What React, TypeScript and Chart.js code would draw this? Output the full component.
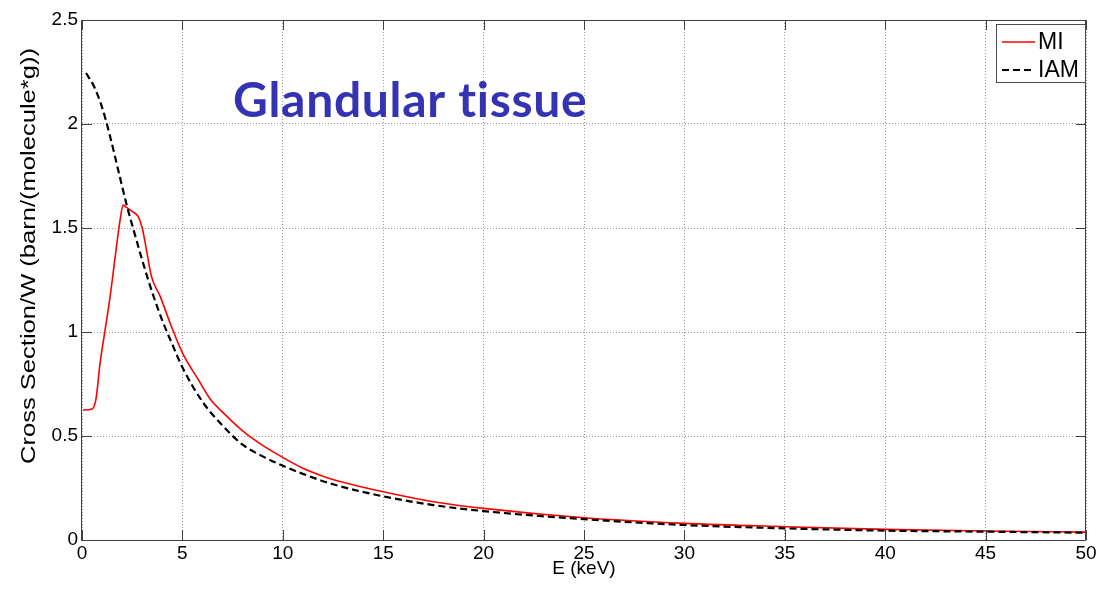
import React, { useEffect, useRef } from 'react';
import { Chart, registerables } from 'chart.js';

Chart.register(...registerables);

// ---- Data ----
const energyMI = [0.05, 0.5, 0.7, 0.9, 1.15, 1.4, 1.65, 1.9, 2.05, 2.2, 2.5, 2.8, 3.0, 3.2, 3.45, 3.9, 4.4, 5, 5.8, 6.4, 7, 8, 9, 10, 11, 12, 13, 15, 17.5, 20, 25, 30, 35, 40, 45, 50];
const crossMI = [0.625, 0.63, 0.68, 0.85, 1.01, 1.17, 1.36, 1.54, 1.61, 1.6, 1.58, 1.555, 1.5, 1.4, 1.27, 1.17, 1.04, 0.9, 0.77, 0.675, 0.615, 0.525, 0.455, 0.397, 0.345, 0.307, 0.278, 0.232, 0.184, 0.152, 0.107, 0.08, 0.064, 0.051, 0.043, 0.038];

const energyIAM = [0.2, 0.6, 1.0, 1.4, 1.8, 2.2, 2.6, 3.0, 3.5, 4, 4.5, 5, 6, 7, 8, 9, 10, 11, 12.5, 15, 17.5, 20, 25, 30, 35, 40, 45, 50];
const crossIAM = [2.245, 2.18, 2.08, 1.94, 1.78, 1.62, 1.48, 1.345, 1.19, 1.055, 0.94, 0.83, 0.665, 0.55, 0.458, 0.402, 0.357, 0.318, 0.268, 0.21, 0.168, 0.139, 0.1, 0.072, 0.056, 0.045, 0.04, 0.035];

const xTickLabels = ['0', '5', '10', '15', '20', '25', '30', '35', '40', '45', '50'];
const yTickLabels = ['0', '0.5', '1', '1.5', '2', '2.5'];

const seriesLabels = ['MI', 'IAM'];
const xTitle = 'E (keV)';
const yTitle = 'Cross Section/W (barn/(molecule*g))';
const annotationText = 'Glandular tissue';

const FONT = "'Liberation Sans', Arial, sans-serif";

const framePlugin = {
  id: 'matlabFrame',
  afterDatasetsDraw(chart: any) {
    const { ctx, chartArea: a, scales } = chart;
    ctx.save();
    ctx.strokeStyle = '#404040';
    ctx.lineWidth = 1;
    const L = 10;
    ctx.beginPath();
    scales.x.ticks.forEach((t: any) => {
      const px = Math.round(scales.x.getPixelForValue(t.value)) + 0.5;
      ctx.moveTo(px, a.bottom);
      ctx.lineTo(px, a.bottom - L);
      ctx.moveTo(px, a.top);
      ctx.lineTo(px, a.top + L);
    });
    scales.y.ticks.forEach((t: any) => {
      const py = Math.round(scales.y.getPixelForValue(t.value)) + 0.5;
      ctx.moveTo(a.left, py);
      ctx.lineTo(a.left + L, py);
      ctx.moveTo(a.right, py);
      ctx.lineTo(a.right - L, py);
    });
    ctx.stroke();
    ctx.strokeRect(Math.round(a.left) - 0.5, Math.round(a.top) + 0.5, Math.round(a.right - a.left), Math.round(a.bottom - a.top));
    ctx.restore();
  },
  afterDraw(chart: any) {
    const { ctx } = chart;
    ctx.save();
    // annotation text
    ctx.fillStyle = '#3333b3';
    ctx.font = "bold 48px Lato, 'Open Sans', sans-serif";
    try { (ctx as any).letterSpacing = '0.7px'; } catch (e) { /* ignore */ }
    ctx.textBaseline = 'alphabetic';
    ctx.textAlign = 'left';
    ctx.fillText(annotationText, 233, 117);
    try { (ctx as any).letterSpacing = '0px'; } catch (e) { /* ignore */ }

    // y-axis title (stretched along its length)
    ctx.save();
    ctx.translate(29, 256);
    ctx.rotate(-Math.PI / 2);
    ctx.font = `20px ${FONT}`;
    const w = ctx.measureText(yTitle).width;
    ctx.scale(416 / w, 1);
    ctx.fillStyle = '#000';
    ctx.textAlign = 'center';
    ctx.textBaseline = 'middle';
    ctx.fillText(yTitle, 0, 0);
    ctx.restore();

    // legend
    const bx = 996, by = 24, bw = 89, bh = 58;
    ctx.fillStyle = '#fff';
    ctx.fillRect(bx, by, bw, bh);
    ctx.strokeStyle = '#4d4d4d';
    ctx.lineWidth = 1;
    ctx.strokeRect(bx + 0.5, by + 0.5, bw, bh);
    const ds = chart.data.datasets;
    const rows = [42, 70];
    ds.forEach((d: any, i: number) => {
      const y = rows[i];
      ctx.save();
      ctx.strokeStyle = d.borderColor;
      ctx.lineWidth = d.borderWidth;
      ctx.setLineDash(d.borderDash || []);
      ctx.beginPath();
      ctx.moveTo(1002, y);
      ctx.lineTo(1035, y);
      ctx.stroke();
      ctx.restore();
      ctx.fillStyle = '#000';
      ctx.font = `23px ${FONT}`;
      ctx.textAlign = 'left';
      ctx.textBaseline = 'middle';
      ctx.fillText(d.label, 1038, y + 1);
    });
    ctx.restore();
  },
};

export default function App() {
  const ref = useRef<HTMLCanvasElement | null>(null);
  useEffect(() => {
    document.body.style.margin = '0';
    const canvas = ref.current!;
    const gridCommon = { color: '#9a9a9a', drawTicks: false, lineWidth: 1 };
    const chart = new Chart(canvas, {
      type: 'line',
      data: {
        datasets: [
          {
            label: seriesLabels[0],
            data: energyMI.map((x, i) => ({ x, y: crossMI[i] })),
            borderColor: '#ff0000',
            borderWidth: 1.6,
            pointRadius: 0,
            cubicInterpolationMode: 'monotone',
            fill: false,
            order: 2,
          },
          {
            label: seriesLabels[1],
            data: energyIAM.map((x, i) => ({ x, y: crossIAM[i] })),
            borderColor: '#000000',
            borderWidth: 2.2,
            borderDash: [7, 4],
            pointRadius: 0,
            cubicInterpolationMode: 'monotone',
            fill: false,
            order: 1,
          },
        ],
      },
      options: {
        responsive: false,
        animation: false,
        layout: { padding: { top: 20, right: 14, left: 0, bottom: 0 } },
        plugins: { legend: { display: false }, tooltip: { enabled: false }, title: { display: false } },
        scales: {
          x: {
            type: 'linear',
            min: 0,
            max: 50,
            afterFit: (s: any) => { s.height = 51; },
            ticks: {
              stepSize: 5,
              autoSkip: false,
              maxRotation: 0,
              padding: 2,
              color: '#000',
              font: { family: FONT, size: 19 },
              callback: (_v: any, i: number) => xTickLabels[i],
            },
            grid: gridCommon,
            border: { display: false, dash: [1, 2] },
            title: {
              display: true,
              text: xTitle,
              color: '#000',
              font: { family: FONT, size: 19 },
              padding: { top: 0, bottom: 11 },
            },
          },
          y: {
            type: 'linear',
            min: 0,
            max: 2.5,
            afterFit: (s: any) => { s.width = 82; },
            ticks: {
              stepSize: 0.5,
              padding: 4,
              color: '#000',
              font: { family: FONT, size: 19 },
              callback: (_v: any, i: number) => yTickLabels[i],
            },
            grid: gridCommon,
            border: { display: false, dash: [1, 2] },
          },
        },
      },
      plugins: [framePlugin],
    } as any);
    return () => chart.destroy();
  }, []);
  return (
    <div style={{ width: 1100, height: 591, background: '#fff' }}>
      <canvas ref={ref} width={1100} height={591} style={{ display: 'block' }} />
    </div>
  );
}
